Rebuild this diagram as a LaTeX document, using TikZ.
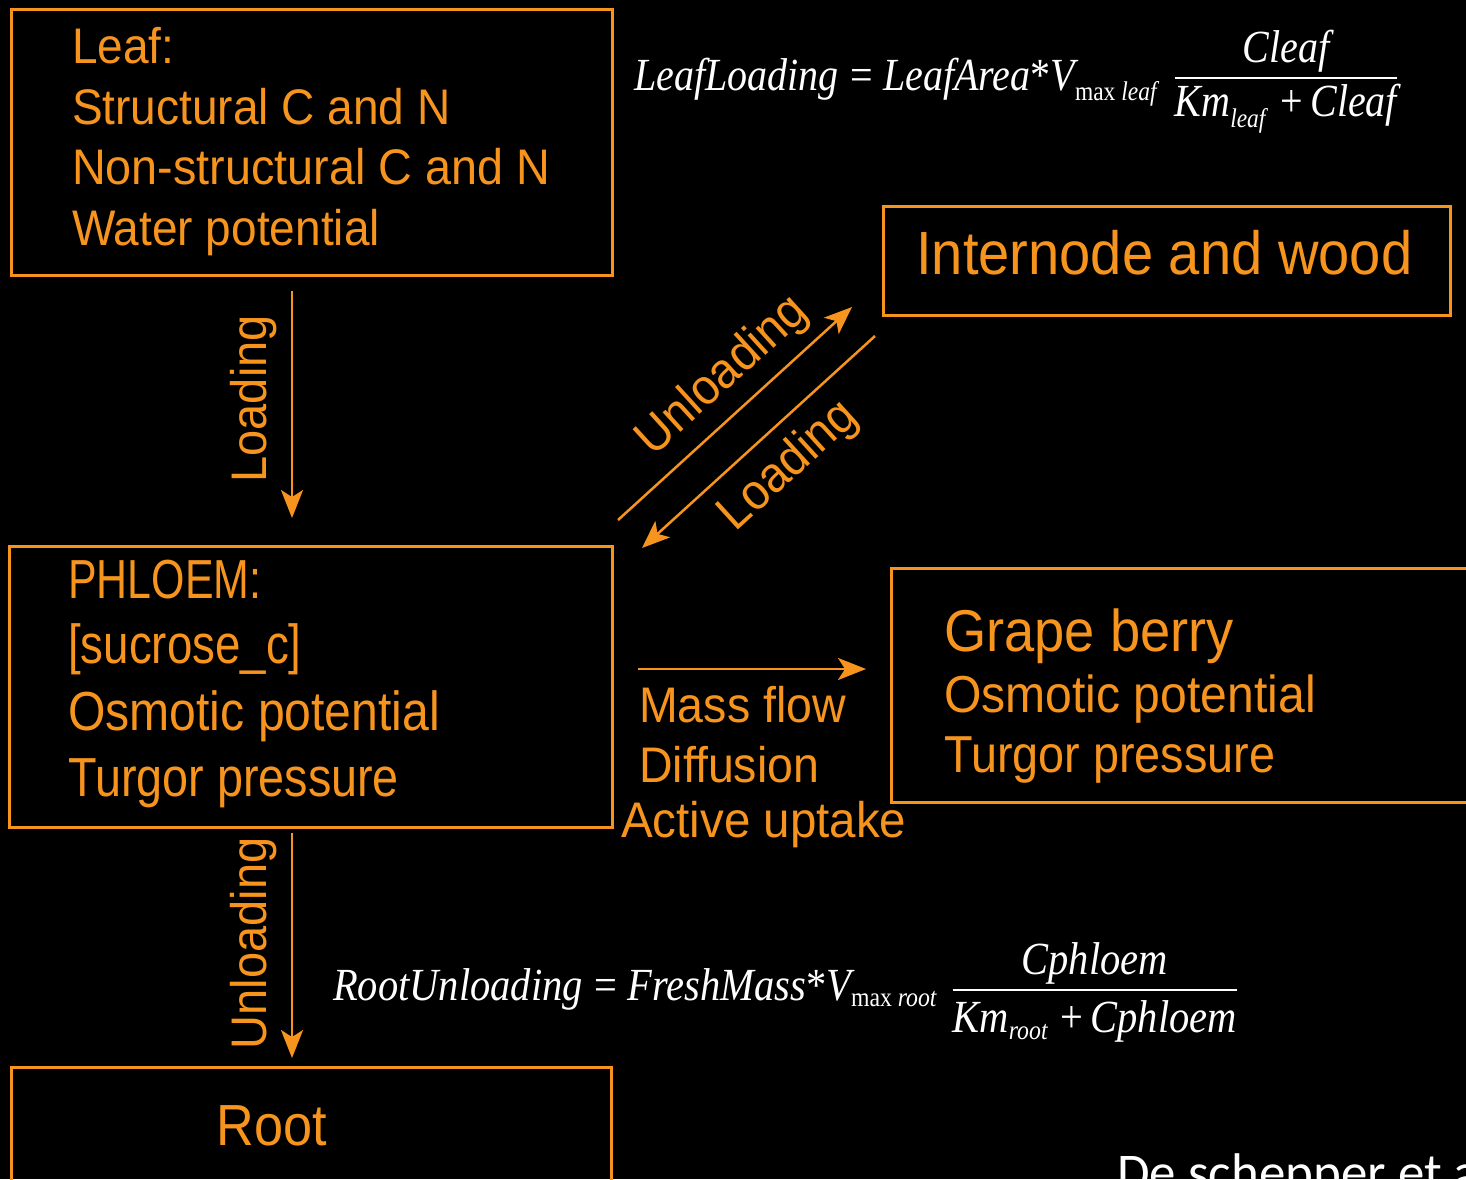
\documentclass[tikz,border=0pt]{standalone}
\usepackage{fontspec}
\usepackage{amsmath}
\setmainfont{Liberation Sans}
\newfontfamily\eqfont{Liberation Serif}
\newfontfamily\citefont{Carlito}
\usetikzlibrary{arrows.meta}
\definecolor{orng}{RGB}{247,148,30}
\newcommand\nar[2][0.92]{\scalebox{#1}[1]{#2}}
\newcommand\eqsub[1]{_{\text{\fontsize{27}{30}\selectfont #1}}}

\begin{document}
\begin{tikzpicture}[x=1pt,y=-1pt,
  box/.style={draw=orng, line width=2.5pt, inner sep=0pt, anchor=north west},
  txt/.style={text=orng, inner sep=0pt, anchor=base west},
  flow/.style={draw=orng, line width=2.5pt, -{Stealth[length=28pt,width=22pt,inset=7pt]}},
  rot/.style={text=orng, font=\fontsize{50}{60}\selectfont},
  eq/.style={text=white, inner sep=0pt, anchor=base west, font=\eqfont\fontsize{46}{55}\selectfont}]
	\useasboundingbox (0,0) rectangle (1466,1179);
	\fill[black] (0,0) rectangle (1466,1179);
	\clip (0,0) rectangle (1466,1179);

	% boxes
	\node[box, minimum width=601pt, minimum height=266pt] (leaf) at (10,8) {};
	\node[box, minimum width=567pt, minimum height=109pt] (wood) at (882,205) {};
	\node[box, minimum width=603pt, minimum height=281pt] (phloem) at (8,545) {};
	\node[box, minimum width=600pt, minimum height=234pt] (berry) at (890,567) {};
	\node[box, minimum width=600pt, minimum height=150pt] (root) at (10,1066) {};

	% leaf
	\node[txt, font=\fontsize{50}{60}\selectfont] (leaf1) at (72,63) {\nar{Leaf:}};
	\node[txt, font=\fontsize{50}{60}\selectfont] (leaf2) at (72,124) {\nar{Structural C and N}};
	\node[txt, font=\fontsize{50}{60}\selectfont] (leaf3) at (72,184) {\nar[0.935]{Non-structural C and N}};
	\node[txt, font=\fontsize{50}{60}\selectfont] (leaf4) at (72,245) {\nar{Water potential}};

	% internode
	\node[txt, font=\fontsize{61}{70}\selectfont] (wood1) at (916,274) {\nar{Internode and wood}};

	% phloem
	\node[txt, font=\fontsize{55}{66}\selectfont] (phl1) at (68,598) {\nar[0.78]{PHLOEM:}};
	\node[txt, font=\fontsize{55}{66}\selectfont] (phl2) at (68,663) {\nar[0.83]{[sucrose\_c]}};
	\node[txt, font=\fontsize{55}{66}\selectfont] (phl3) at (68,730) {\nar[0.875]{Osmotic potential}};
	\node[txt, font=\fontsize{55}{66}\selectfont] (phl4) at (68,796) {\nar[0.85]{Turgor pressure}};

	% grape berry
	\node[txt, font=\fontsize{59}{70}\selectfont] (ber1) at (944,651) {\nar{Grape berry}};
	\node[txt, font=\fontsize{52}{62}\selectfont] (ber2) at (944,712) {\nar[0.925]{Osmotic potential}};
	\node[txt, font=\fontsize{52}{62}\selectfont] (ber3) at (944,772) {\nar[0.9]{Turgor pressure}};

	% root
	\node[txt, anchor=base, font=\fontsize{58}{68}\selectfont] (root1) at (272,1145) {\nar[0.9]{Root}};

	% transport modes
	\node[txt, font=\fontsize{50}{60}\selectfont] (mf) at (639,722) {\nar[0.93]{Mass flow}};
	\node[txt, font=\fontsize{50}{60}\selectfont] (df) at (639,782) {\nar[0.93]{Diffusion}};
	\node[txt, font=\fontsize{50}{60}\selectfont] (au) at (621,837) {\nar[0.95]{Active uptake}};

	% arrows
	\coordinate (ld1) at (292,291);
	\coordinate (ld2) at (292,518);
	\coordinate (ul1) at (292,833);
	\coordinate (ul2) at (292,1058);
	\coordinate (iu1) at (618,520);
	\coordinate (iu2) at (852,307);
	\coordinate (il1) at (875,336);
	\coordinate (il2) at (642,548);
	\coordinate (mf1) at (638,669);
	\coordinate (mf2) at (866,669);

	\draw[flow] (ld1) -- node[rot, pos=0.475, rotate=90, anchor=south, inner sep=14pt] {\nar[0.94]{Loading}} (ld2);
	\draw[flow] (ul1) -- node[rot, pos=0.49, rotate=90, anchor=south, inner sep=14pt] {\nar[0.94]{Unloading}} (ul2);
	\draw[flow] (iu1) -- node[rot, sloped, pos=0.55, above, inner sep=11pt] {\nar[0.94]{Unloading}} (iu2);
	\draw[flow] (il1) -- node[rot, sloped, pos=0.48, below, inner sep=14pt] {\nar[0.94]{Loading}} (il2);
	\draw[flow] (mf1) -- (mf2);

	% equations
	\node[eq] (eqleaf) at (634,90) {\nar[0.87]{$\textit{LeafLoading}\hspace{13pt}\textup{=}\hspace{12pt}\textit{LeafArea}\textup{*}\textit{V}\eqsub{max \textit{leaf}}$\hspace{16pt}\raisebox{6pt}{$\genfrac{}{}{1.6pt}{0}{\textit{Cleaf}}{\rule{0pt}{33.5pt}\textit{Km}\eqsub{\textit{leaf}}\hspace{14pt}\textup{+}\hspace{8pt}\textit{Cleaf}}$}}};
	\node[eq] (eqroot) at (333,1000) {\nar[0.88]{$\textit{RootUnloading}\hspace{13pt}\textup{=}\hspace{12pt}\textit{FreshMass}\textup{*}\textit{V}\eqsub{max \textit{root}}$\hspace{16pt}\raisebox{4pt}{$\genfrac{}{}{1.6pt}{0}{\textit{Cphloem}}{\rule{0pt}{37.5pt}\textit{Km}\eqsub{\textit{root}}\hspace{14pt}\textup{+}\hspace{8pt}\textit{Cphloem}}$}}};

	% citation
	\node[text=white, inner sep=0pt, anchor=base west, font=\citefont\fontsize{53}{63}\selectfont] (cite) at (1117,1190) {De schepper et al.};
\end{tikzpicture}
\end{document}
